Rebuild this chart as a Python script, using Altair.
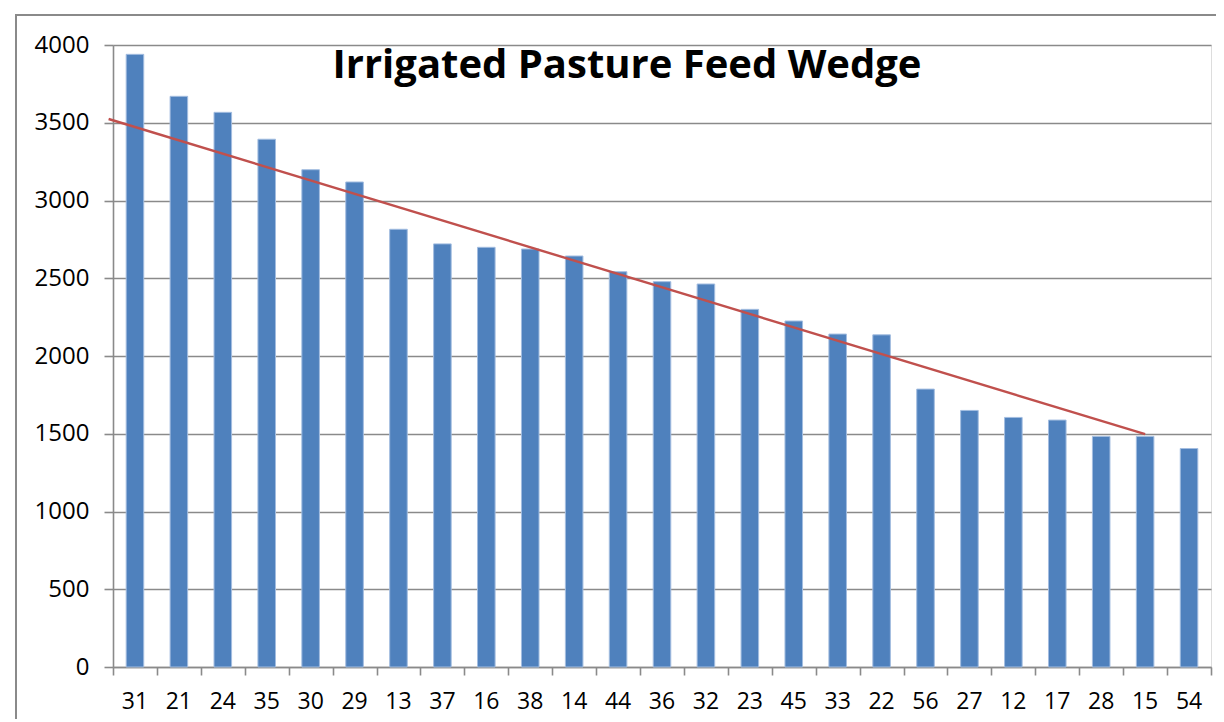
import altair as alt
import pandas as pd

categories = ["31", "21", "24", "35", "30", "29", "13", "37", "16", "38", "14", "44",
              "36", "32", "23", "45", "33", "22", "56", "27", "12", "17", "28", "15", "54"]
values = [3940, 3670, 3567, 3394, 3198, 3119, 2815, 2721, 2699, 2688, 2643, 2542,
          2478, 2463, 2300, 2225, 2141, 2136, 1787, 1650, 1605, 1588, 1483, 1483, 1405]

# trend line in category units (0 = left edge of plot, 23.5 = centre of "15")
trend_x = [-0.1, 23.5]
trend_y = [3524, 1497]

y_ticks = [0, 500, 1000, 1500, 2000, 2500, 3000, 3500, 4000]
boundaries = list(range(len(categories) + 1))

bars_df = pd.DataFrame({"cat": categories, "val": values})
trend_df = pd.DataFrame({"tx": trend_x, "ty": trend_y})

GRID = "#8a8a8a"
FONT = "Open Sans"

y_enc = alt.Y(
    "val:Q",
    scale=alt.Scale(domain=[0, 4000], nice=False),
    axis=alt.Axis(
        values=y_ticks, title=None, grid=True, gridColor=GRID, gridWidth=1.6,
        domain=True, domainColor=GRID, domainWidth=1.6, format="d",
        ticks=True, tickSize=9, tickColor=GRID, tickWidth=1.6,
        labelFont=FONT, labelFontSize=24, labelColor="#000000", labelPadding=15,
    ),
)

bars = alt.Chart(bars_df).mark_bar(
    color="#4F81BD", stroke="#A3BDE0", strokeWidth=1
).encode(
    x=alt.X(
        "cat:N", sort=None,
        scale=alt.Scale(paddingInner=0.6, paddingOuter=0.3),
        axis=alt.Axis(
            title=None, labelAngle=0, ticks=False, grid=False,
            domain=True, domainColor=GRID, domainWidth=1.6,
            labelFont=FONT, labelFontSize=23, labelColor="#000000", labelPadding=23,
            orient="bottom",
        ),
    ),
    y=y_enc,
)

trend = alt.Chart(trend_df).mark_line(
    color="#C0504D", strokeWidth=2.4, clip=False
).encode(
    x=alt.X(
        "tx:Q",
        scale=alt.Scale(domain=[0, len(categories)], nice=False, zero=False),
        axis=alt.Axis(
            values=boundaries, labels=False, ticks=True, tickSize=8, tickColor=GRID,
            tickWidth=1.6, domain=False, grid=False, title=None, orient="bottom",
        ),
    ),
    y=alt.Y("ty:Q", scale=alt.Scale(domain=[0, 4000], nice=False)),
)

frame = alt.Chart(pd.DataFrame({"k": [0]})).mark_rect(
    fill=None, stroke="#8a8a8a", strokeWidth=2, clip=False
).encode(
    x=alt.value(-97), x2=alt.value(1300), y=alt.value(-30), y2=alt.value(800)
)

chart = alt.layer(frame, bars, trend).resolve_scale(x="independent").properties(
    width=1098,
    height=622,
    padding={"left": 105, "top": 37, "right": 5, "bottom": 52},
    autosize=alt.AutoSizeParams(type="none"),
    title=alt.Title(
        "Irrigated Pasture Feed Wedge", font=FONT, fontSize=40, fontWeight="bold",
        color="#000000", anchor="middle", dx=-35, dy=76,
    ),
).configure_view(stroke=None).configure(background="#ffffff")

chart.save("out.html", embed_options={"renderer": "svg", "actions": False})
